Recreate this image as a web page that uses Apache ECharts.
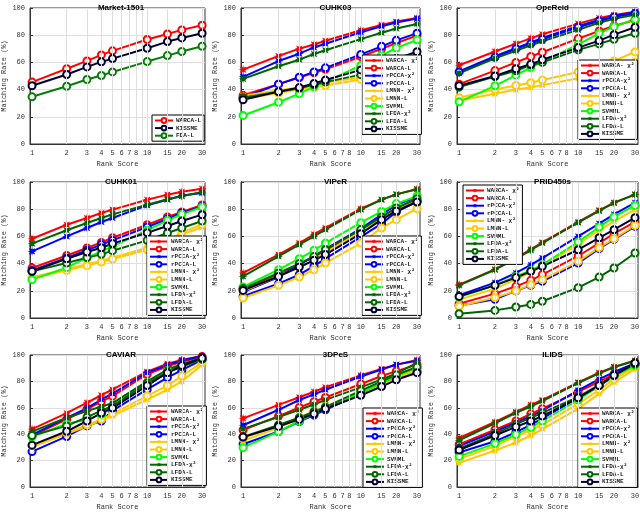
<!DOCTYPE html>
<html><head><meta charset="utf-8">
<script src="https://cdn.jsdelivr.net/npm/echarts@6/dist/echarts.min.js"></script>
<style>html,body{margin:0;padding:0;background:#fff}#c{width:640px;height:512px}</style>
</head><body><div id="c"></div>
<script>
// ---------- data ----------
const ranks = [1, 2, 3, 4, 5, 10, 15, 20, 30];
const tickRanks = [1, 2, 3, 4, 5, 6, 7, 8, 10, 15, 20, 30];
const gridRanks = [2, 3, 4, 5, 6, 7, 8, 9, 10, 15, 20, 30];
const yTicks = [0, 20, 40, 60, 80, 100];
const titles = ['Market-1501', 'CUHK03', 'OpeReid', 'CUHK01', 'VIPeR', 'PRID450s', 'CAVIAR', '3DPeS', 'ILIDS'];
const methods = ['WARCA- χ²', 'WARCA-L', 'rPCCA-χ²', 'rPCCA-L', 'LMNN- χ²', 'LMNN-L', 'SVMML', 'LFDA-χ²', 'LFDA-L', 'KISSME'];
const marketMethods = ['WARCA-L', 'KISSME', 'FDA-L'];

// Market-1501
const market_warcaL = [45.5, 55.3, 61.1, 65.5, 68.5, 76.8, 80.9, 83.9, 87.3];
const market_kissme = [42.8, 51.1, 56.7, 60.4, 62.8, 70.4, 75.3, 78.0, 81.4];
const market_fdaL   = [34.7, 42.5, 47.4, 50.4, 53.0, 60.6, 65.0, 68.0, 71.9];

// CUHK03 (order = methods)
const cuhk03 = [
  [54.7, 64.7, 70.1, 73.2, 75.9, 83.7, 87.6, 90.0, 92.7],
  [35.8, 44.0, 48.9, 52.3, 55.0, 64.2, 70.0, 74.2, 79.8],
  [49.4, 61.0, 66.4, 71.0, 73.7, 82.2, 86.6, 89.3, 92.2],
  [34.0, 44.0, 49.1, 53.0, 56.0, 65.9, 71.8, 76.2, 81.5],
  [35.5, 39.5, 41.5, 43.5, 45.0, 49.0, 52.5, 55.0, 57.4],
  [33.0, 37.5, 40.0, 41.5, 43.0, 47.5, 51.0, 54.0, 57.5],
  [21.0, 30.7, 37.0, 42.0, 45.7, 57.7, 65.2, 70.6, 76.6],
  [47.9, 57.2, 62.0, 66.2, 68.9, 77.1, 81.8, 84.9, 88.3],
  [34.0, 38.5, 41.0, 43.5, 45.5, 51.0, 55.0, 59.0, 64.0],
  [32.5, 38.5, 41.5, 44.5, 47.0, 54.5, 59.0, 62.8, 67.8]
];
// OpeReid
const opereid = [
  [57.9, 68.0, 73.8, 77.7, 80.7, 88.5, 92.7, 94.9, 97.3],
  [44.0, 54.0, 60.0, 64.3, 67.5, 77.5, 83.1, 86.8, 91.2],
  [53.3, 64.5, 70.4, 74.6, 78.0, 86.8, 91.2, 94.1, 96.8],
  [53.0, 63.8, 70.0, 73.8, 77.0, 85.8, 90.5, 93.4, 96.0],
  [32.0, 37.0, 40.0, 41.6, 43.3, 48.4, 53.5, 57.5, 61.4],
  [34.0, 40.0, 43.0, 45.0, 47.0, 53.0, 57.5, 61.0, 67.7],
  [31.0, 42.8, 50.6, 56.2, 60.4, 73.3, 81.4, 86.3, 91.7],
  [52.0, 63.0, 68.5, 72.6, 75.6, 83.9, 89.2, 92.0, 95.0],
  [41.8, 49.6, 53.8, 58.0, 60.0, 69.2, 73.6, 77.0, 81.4],
  [42.8, 50.0, 55.3, 58.7, 61.9, 70.9, 76.0, 80.4, 85.8]
];
// CUHK01
const cuhk01 = [
  [58.3, 68.6, 73.5, 77.2, 79.7, 87.0, 90.7, 92.9, 95.1],
  [36.8, 46.0, 51.5, 55.6, 59.0, 68.6, 74.3, 77.9, 83.1],
  [49.0, 60.0, 66.2, 70.6, 73.5, 82.8, 87.0, 90.0, 91.9],
  [35.0, 44.1, 49.8, 54.0, 57.1, 66.9, 72.8, 77.2, 82.1],
  [30.0, 36.0, 39.5, 42.0, 44.4, 51.7, 57.0, 61.5, 66.5],
  [29.6, 35.0, 38.5, 41.2, 43.4, 50.2, 56.5, 63.0, 68.8],
  [28.2, 37.0, 44.4, 49.0, 52.7, 64.5, 71.8, 76.2, 81.6],
  [54.7, 64.5, 69.9, 73.5, 76.2, 83.3, 87.3, 89.5, 92.6],
  [34.3, 40.4, 44.4, 46.8, 49.5, 57.1, 62.5, 66.2, 71.3],
  [34.3, 43.6, 48.5, 51.7, 54.7, 62.7, 67.6, 71.3, 76.0]
];
// VIPeR
const viper = [
  [33.1, 46.6, 55.1, 61.5, 66.2, 80.4, 87.0, 90.9, 94.9],
  [21.0, 32.1, 39.7, 44.9, 49.8, 64.5, 74.3, 80.4, 86.5],
  [19.1, 30.1, 39.2, 45.3, 50.7, 65.7, 76.0, 83.3, 89.0],
  [16.0, 25.2, 31.9, 38.2, 43.6, 59.6, 69.4, 77.9, 85.8],
  [19.6, 30.9, 37.0, 42.9, 47.8, 64.0, 73.5, 80.4, 87.0],
  [14.7, 24.0, 30.1, 35.5, 40.4, 55.1, 66.2, 72.3, 80.4],
  [22.8, 35.5, 43.6, 49.8, 55.1, 70.1, 78.4, 84.1, 89.5],
  [30.6, 45.3, 53.9, 60.0, 65.0, 79.7, 87.0, 90.9, 94.6],
  [21.6, 33.1, 40.0, 45.3, 50.2, 65.0, 74.3, 80.9, 87.7],
  [20.3, 30.6, 37.5, 42.4, 46.6, 62.0, 72.3, 78.7, 85.3]
];
// PRID450s
const prid450s = [
  [24.5, 35.8, 44.1, 50.5, 55.6, 70.6, 79.2, 84.8, 90.9],
  [10.5, 17.9, 23.3, 27.7, 31.9, 45.6, 55.1, 62.0, 70.6],
  [16.7, 26.0, 33.1, 39.0, 44.1, 60.0, 69.4, 76.2, 84.8],
  [9.0, 13.7, 19.9, 24.0, 27.0, 40.4, 51.0, 57.8, 67.4],
  [13.5, 21.6, 28.4, 33.8, 38.0, 54.2, 64.5, 71.1, 79.7],
  [8.6, 15.0, 19.9, 24.5, 28.2, 41.7, 51.7, 58.3, 68.1],
  [15.4, 24.0, 30.6, 35.0, 39.2, 55.9, 66.9, 74.3, 82.8],
  [24.0, 35.5, 43.6, 49.8, 55.1, 70.1, 78.7, 84.6, 90.7],
  [3.2, 5.6, 8.1, 10.0, 12.3, 22.3, 30.1, 36.8, 47.8],
  [15.9, 24.0, 29.7, 34.3, 38.0, 50.2, 59.0, 64.9, 73.8]
];
// CAVIAR
const caviar = [
  [43.9, 55.9, 63.9, 69.5, 73.9, 87.3, 93.4, 96.3, 99.3],
  [38.8, 51.2, 59.0, 64.6, 68.8, 85.4, 91.5, 94.9, 98.8],
  [39.5, 52.4, 59.8, 66.3, 70.7, 86.6, 92.4, 95.9, 99.3],
  [26.8, 38.3, 46.3, 50.0, 57.8, 73.9, 82.9, 88.5, 96.3],
  [30.5, 40.2, 45.9, 50.5, 53.9, 66.3, 73.7, 80.0, 92.7],
  [31.7, 41.0, 47.1, 51.2, 55.4, 69.0, 76.8, 84.1, 94.4],
  [38.0, 48.0, 51.0, 55.0, 60.0, 79.0, 88.0, 92.0, 97.0],
  [42.0, 52.5, 57.5, 61.0, 63.5, 80.0, 89.0, 93.0, 98.0],
  [39.0, 46.3, 52.9, 57.8, 61.5, 78.8, 86.6, 91.0, 96.8],
  [31.7, 42.2, 50.0, 56.1, 59.8, 76.8, 86.6, 92.0, 97.6]
];
// 3DPeS
const dpes3 = [
  [52.0, 62.2, 68.0, 72.2, 75.6, 84.6, 89.5, 92.7, 96.3],
  [43.2, 53.7, 60.2, 64.6, 67.8, 78.0, 84.1, 87.8, 92.7],
  [46.8, 58.5, 65.9, 70.2, 73.7, 83.7, 89.0, 92.7, 95.6],
  [32.4, 42.0, 49.5, 54.4, 58.5, 70.7, 77.3, 82.2, 87.8],
  [34.9, 45.0, 51.7, 56.3, 59.3, 70.7, 77.6, 81.7, 87.1],
  [37.1, 46.3, 52.9, 57.3, 61.0, 72.0, 78.5, 82.9, 88.5],
  [29.8, 42.0, 50.0, 55.4, 59.3, 71.2, 78.8, 84.1, 90.2],
  [44.0, 53.0, 58.5, 62.5, 66.0, 75.5, 81.5, 86.0, 94.0],
  [38.0, 47.0, 52.5, 57.0, 60.5, 73.0, 80.0, 85.0, 91.0],
  [37.8, 45.9, 51.2, 55.4, 59.3, 69.5, 76.1, 81.2, 86.6]
];
// ILIDS
const ilids = [
  [37.1, 49.3, 56.8, 62.2, 65.9, 79.3, 86.6, 91.0, 95.9],
  [32.2, 43.4, 50.0, 55.4, 59.3, 72.0, 79.8, 85.4, 93.4],
  [31.0, 42.0, 48.8, 53.7, 57.8, 73.2, 81.7, 87.1, 93.9],
  [26.1, 34.6, 41.5, 47.1, 52.0, 67.6, 76.3, 84.1, 92.7],
  [18.3, 27.6, 33.7, 39.0, 43.9, 59.3, 70.7, 79.3, 89.5],
  [21.2, 31.0, 38.3, 43.2, 47.1, 62.9, 73.7, 81.7, 91.0],
  [23.2, 32.9, 39.8, 45.1, 50.0, 65.9, 76.8, 84.1, 92.0],
  [35.4, 48.3, 56.1, 61.0, 65.1, 78.8, 86.1, 90.7, 95.6],
  [29.0, 40.2, 47.6, 52.4, 56.1, 68.3, 77.3, 84.6, 93.2],
  [28.0, 39.0, 45.6, 50.0, 53.7, 67.6, 76.8, 84.6, 93.9]
];

// ---------- styles & layout ----------
const STAR = 'path://M10,0 L4.5,1.4 L7.07,7.07 L1.4,4.5 L0,10 L-1.4,4.5 L-7.07,7.07 L-4.5,1.4 L-10,0 L-4.5,-1.4 L-7.07,-7.07 L-1.4,-4.5 L0,-10 L1.4,-4.5 L7.07,-7.07 L4.5,-1.4 Z';
const styleOf = {
  'WARCA- χ²': ['#ff0000', STAR], 'WARCA-L': ['#ff0000', 'emptyCircle'],
  'rPCCA-χ²': ['#0000ff', STAR], 'rPCCA-L': ['#0000ff', 'emptyCircle'],
  'LMNN- χ²': ['#ffc800', STAR], 'LMNN-L': ['#ffc800', 'emptyCircle'],
  'SVMML': ['#00ff00', 'emptyCircle'],
  'LFDA-χ²': ['#006400', STAR], 'LFDA-L': ['#006400', 'emptyCircle'],
  'KISSME': ['#00002e', 'emptyCircle'], 'FDA-L': ['#0a7a0a', 'emptyCircle']
};
const colLeft = [27, 241, 457], colWidth = [178, 179, 181];
const rowTop = [8, 182, 355], rowHeight = [136, 136, 137];
const legendPos = [[152, 115], [362, 55], [578, 60], [147, 236], [362, 236], [463, 185], [147, 406], [363, 408], [578, 408]];
const MONO = 'Liberation Mono';

const panelNames = [marketMethods, methods, methods, methods, methods, methods, methods, methods, methods];
const panelValues = [[market_warcaL, market_kissme, market_fdaL], cuhk03, opereid, cuhk01, viper, prid450s, caviar, dpes3, ilids];

const option = { animation: false, grid: [], xAxis: [], yAxis: [], series: [], legend: [], title: [] };
for (let i = 0; i < 9; i++) {
  const c = i % 3, r = Math.floor(i / 3);
  option.grid.push({ left: colLeft[c], top: rowTop[r], width: colWidth[c], height: rowHeight[r],
    show: true, borderColor: '#333', borderWidth: 1, backgroundColor: '#fff' });
  option.title.push({ text: titles[i], left: colLeft[c] + colWidth[c] / 2, top: rowTop[r] - 9, textAlign: 'center',
    textStyle: { fontFamily: 'Liberation Sans', fontWeight: 'bold', fontSize: 8, color: '#000' } });
  option.xAxis.push({ type: 'log', gridIndex: i, min: 0.96, max: 31.8, logBase: 10,
    axisLabel: { show: false }, axisTick: { show: false }, splitLine: { show: false }, minorSplitLine: { show: false },
    axisLine: { show: true, lineStyle: { color: '#333' } },
    name: 'Rank Score', nameLocation: 'middle', nameGap: 17,
    nameTextStyle: { fontFamily: MONO, fontSize: 7, color: '#333' } });
  option.yAxis.push({ type: 'value', gridIndex: i, min: 0, max: 100, interval: 20,
    axisLabel: { fontFamily: MONO, fontSize: 7, color: '#333', margin: 5 },
    axisTick: { show: true, inside: true, length: 3, lineStyle: { color: '#333' } },
    axisLine: { show: true, lineStyle: { color: '#333' } },
    splitLine: { show: true, lineStyle: { color: '#dedede', width: 1 } },
    name: 'Matching Rate (%)', nameLocation: 'middle', nameGap: 22,
    nameTextStyle: { fontFamily: MONO, fontSize: 7, color: '#333' } });
  // grid lines + tick labels along the log x axis
  const mlData = Array.from(new Set(gridRanks.concat(tickRanks))).sort((a, b) => a - b).map(v => ({
    xAxis: v,
    lineStyle: { color: v === 1 ? 'rgba(0,0,0,0)' : '#dedede', width: 1, type: 'solid' },
    label: { show: tickRanks.includes(v), formatter: String(v), position: 'start', distance: 6,
      fontFamily: MONO, fontSize: 7, color: '#333' }
  }));
  option.series.push({ type: 'line', xAxisIndex: i, yAxisIndex: i, data: [], z: 1, silent: true,
    markLine: { silent: true, symbol: ['none', 'none'], animation: false, data: mlData } });
  const names = panelNames[i], vals = panelValues[i];
  names.forEach((n, k) => {
    const [col, sym] = styleOf[n];
    const isStar = sym === STAR;
    option.series.push({ type: 'line', name: n, xAxisIndex: i, yAxisIndex: i, z: 3,
      data: ranks.map((rk, j) => [rk, vals[k][j]]),
      symbol: sym, symbolSize: isStar ? 9 : 7, showSymbol: true,
      lineStyle: { color: col, width: 2 },
      itemStyle: isStar ? { color: col } : { color: col, borderColor: col, borderWidth: 1.6 } });
  });
  option.legend.push({ data: names, orient: 'vertical', left: legendPos[i][0], top: legendPos[i][1],
    itemWidth: 18, itemHeight: 6, itemGap: 0.6, padding: [2, 3, 2, 2], selectedMode: false,
    backgroundColor: '#fff', borderColor: '#000', borderWidth: 1,
    textStyle: { fontFamily: MONO, fontSize: 6, lineHeight: 7, fontWeight: 'bold', color: '#222', padding: [0, 0, 0, -2] } });
}
const chart = echarts.init(document.getElementById('c'), null, { renderer: 'canvas' });
chart.setOption(option);
</script></body></html>
